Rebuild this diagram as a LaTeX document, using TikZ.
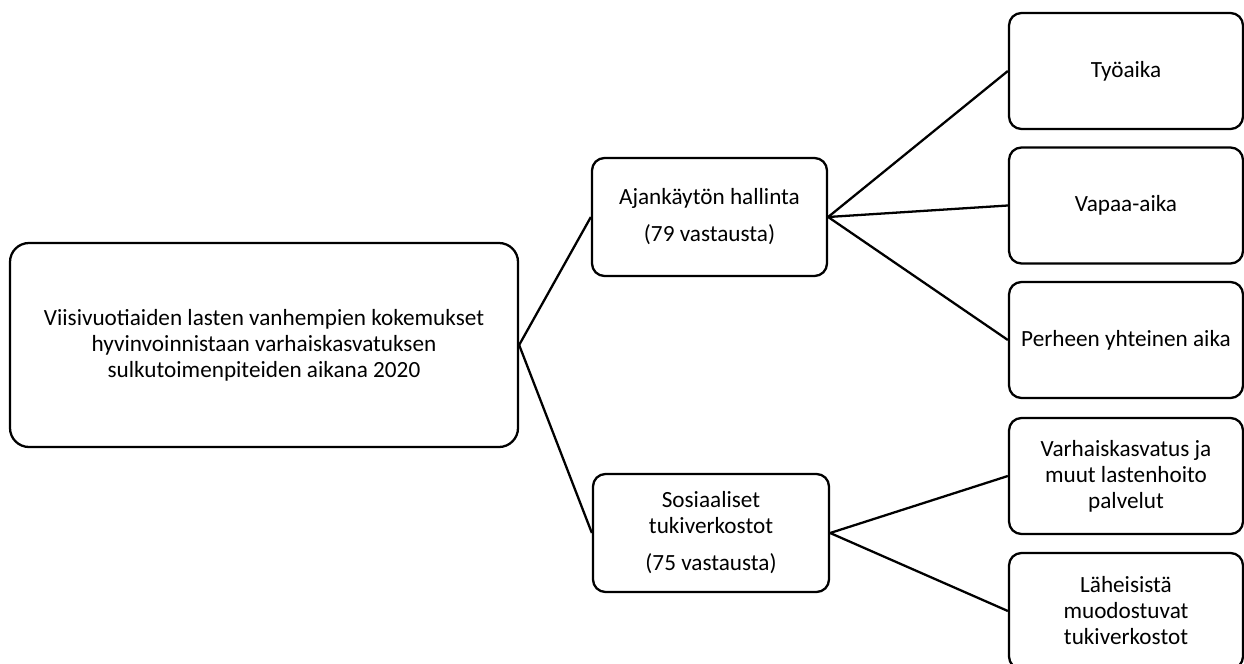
\documentclass[tikz,border=0pt]{standalone}
\usepackage{fontspec}
\setmainfont{Carlito}
\tikzset{
  box/.style={draw, black, line width=1.3pt, rounded corners=0.25cm, align=center,
    inner sep=0pt, minimum width=4.68cm, minimum height=2.32cm},
  link/.style={black, line width=1.3pt}
}
\begin{document}
\begin{tikzpicture}[font=\fontsize{13.2}{14.8}\selectfont]
     \useasboundingbox (0,0) rectangle (24.88,-13.28);
     \node[box, rounded corners=0.38cm, minimum width=10.16cm, minimum height=4.08cm] (paa) at (5.28,-6.9)
        {Viisivuotiaiden lasten vanhempien kokemukset\\ hyvinvoinnistaan varhaiskasvatuksen\\ sulkutoimenpiteiden aikana 2020};
     \node[box, minimum width=4.7cm, minimum height=2.36cm] (ajan) at (14.19,-4.34)
        {Ajankäytön hallinta\\[0.22cm] (79 vastausta)};
     \node[box, minimum width=4.72cm, minimum height=2.36cm] (sos) at (14.22,-10.66)
        {Sosiaaliset\\ tukiverkostot\\[0.22cm] (75 vastausta)};
     \node[box] (tyo) at (22.52,-1.42) {Työaika};
     \node[box] (vapaa) at (22.52,-4.11) {Vapaa-aika};
     \node[box] (perhe) at (22.52,-6.8) {Perheen yhteinen aika};
     \node[box] (varh) at (22.52,-9.52) {Varhaiskasvatus ja\\ muut lastenhoito\\ palvelut};
     \node[box] (lah) at (22.52,-12.22) {Läheisistä\\ muodostuvat\\ tukiverkostot};
     \draw[link] (paa.east) -- (ajan.west);
     \draw[link] (paa.east) -- (sos.west);
     \foreach \b in {tyo, vapaa, perhe}
        \draw[link] (ajan.east) -- (\b.west);
     \foreach \b in {varh, lah}
        \draw[link] (sos.east) -- (\b.west);
\end{tikzpicture}
\end{document}
